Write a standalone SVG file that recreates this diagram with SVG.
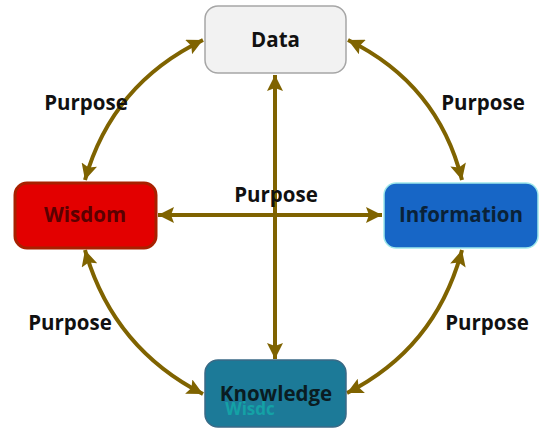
<svg xmlns="http://www.w3.org/2000/svg" width="550" height="438" viewBox="0 0 550 438">
<style>
.lbl{font-family:"Open Sans","Noto Sans","DejaVu Sans",sans-serif;font-weight:bold;font-size:20.5px;text-anchor:middle;fill:#111}
.conn{fill:none;stroke:#7f6300;stroke-width:4;marker-start:url(#ah);marker-end:url(#ah)}
</style>
<defs>
<marker id="ah" markerUnits="userSpaceOnUse" markerWidth="18" markerHeight="16" refX="16" refY="8" orient="auto-start-reverse" viewBox="0 0 16 16">
<path d="M0,0 L16,8 L0,16 L3,8 Z" fill="#7f6300"/>
</marker>
</defs>
<rect width="550" height="438" fill="#fff"/>
<g id="connectors">
<path class="conn" d="M275,75 L275,359"/>
<path class="conn" d="M158,215 L382,215"/>
<path class="conn" d="M203,40 Q112,84 85,180"/>
<path class="conn" d="M348,40 Q438,84 462,180"/>
<path class="conn" d="M85,250 Q113,348 203,394"/>
<path class="conn" d="M462,250 Q436,348 347,393"/>
</g>
<g id="labels">
<text class="lbl" x="86" y="110">Purpose</text>
<text class="lbl" x="483" y="110">Purpose</text>
<text class="lbl" x="276" y="202">Purpose</text>
<text class="lbl" x="70" y="330">Purpose</text>
<text class="lbl" x="487" y="330">Purpose</text>
</g>
<g id="data">
<rect x="205" y="6" width="141" height="67" rx="13" fill="#f2f2f2" stroke="#a6a6a6" stroke-width="1.5"/>
<text class="lbl" x="275.5" y="47">Data</text>
</g>
<g id="wisdom">
<rect x="15" y="183" width="141" height="65" rx="12" fill="#e30000" stroke="#a82000" stroke-width="3"/>
<text class="lbl" x="85" y="222" style="fill:#5a0000">Wisdom</text>
</g>
<g id="information">
<rect x="384" y="183" width="154" height="65" rx="12" fill="#1766c6" stroke="#9fe8ea" stroke-width="1.5"/>
<text class="lbl" x="461" y="222" style="fill:#0a2238">Information</text>
</g>
<g id="knowledge">
<rect x="205" y="360" width="141" height="67" rx="13" fill="#1c7a98" stroke="#3a6a86" stroke-width="1.5"/>
<text class="lbl" x="250" y="415" style="fill:#14a2a6;font-size:17px">Wisdc</text>
<text class="lbl" x="276" y="401" style="fill:#0a1c22">Knowledge</text>
</g>
</svg>
